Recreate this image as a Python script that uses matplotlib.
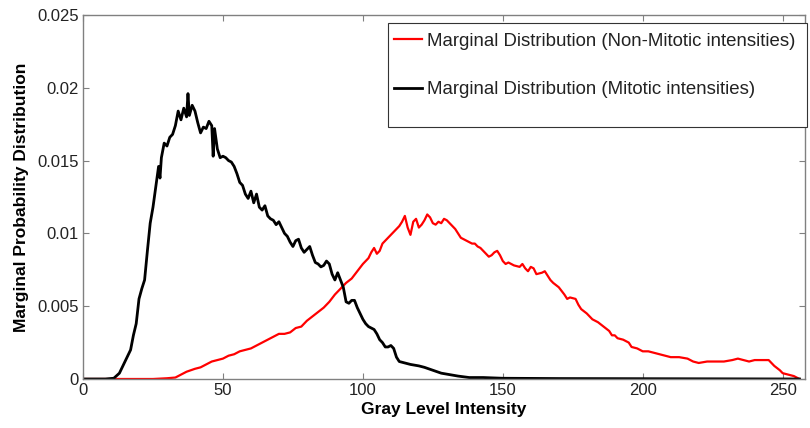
import matplotlib
matplotlib.use('Agg')
import matplotlib.pyplot as plt
from matplotlib.patches import Rectangle
from matplotlib.ticker import FuncFormatter

plt.rcParams['font.family'] = ['Liberation Sans', 'DejaVu Sans']

# gray level / probability pairs
mitotic_x = [0, 8, 11, 13, 15, 17, 18, 19, 20, 21, 22, 23, 24, 25, 26, 27, 27.5, 28, 29, 30,
             31, 32, 33, 34, 35, 36, 37, 37.5, 38, 39, 40, 41, 42, 43, 44, 45, 46, 46.5, 47, 48,
             49, 50, 51, 52, 53, 54, 55, 56, 57, 58, 59, 60, 61, 62, 63, 64, 65, 66, 67, 68,
             69, 70, 71, 72, 73, 74, 75, 76, 77, 78, 79, 80, 81, 82, 83, 84, 85, 86, 87, 88,
             89, 90, 91, 92, 93, 94, 95, 96, 97, 98, 99, 100, 101, 102, 103, 104, 105, 106, 107, 108,
             109, 110, 111, 112, 113, 115, 117, 120, 122, 125, 128, 131, 134, 138, 143, 150, 170, 200, 230, 256]
mitotic_y = [0, 0, 0.00005, 0.0004, 0.0012, 0.002, 0.003, 0.0038, 0.0055, 0.0062, 0.0068, 0.0088,
             0.0107, 0.0118, 0.0132, 0.0146, 0.0138, 0.0152, 0.0162, 0.0160,
             0.0166, 0.0168, 0.0174, 0.0184, 0.0178, 0.0186, 0.0180, 0.0196, 0.0181, 0.0188,
             0.0184, 0.0176, 0.0169, 0.0173, 0.0172, 0.0177, 0.0174, 0.0153, 0.0172, 0.0158,
             0.0152, 0.0153, 0.0152, 0.0150, 0.0149, 0.0146, 0.0141, 0.0135, 0.0133, 0.0127,
             0.0124, 0.0129, 0.0121, 0.0127, 0.0118, 0.0116, 0.0119, 0.0112, 0.0110, 0.0109,
             0.0106, 0.0108, 0.0104, 0.0100, 0.0098, 0.0094, 0.0091, 0.0095, 0.0096, 0.0090,
             0.0087, 0.0089, 0.0091, 0.0085, 0.0080, 0.0079, 0.0077, 0.0078, 0.0081, 0.0079,
             0.0072, 0.0068, 0.0073, 0.0068, 0.0063, 0.0053, 0.0052, 0.0054, 0.0054, 0.0049,
             0.0045, 0.0041, 0.0038, 0.0036, 0.0035, 0.0034, 0.0031, 0.0027, 0.0025, 0.0022,
             0.0022, 0.0023, 0.0021, 0.0015, 0.0012, 0.0011, 0.0010, 0.0009, 0.0008, 0.0006,
             0.0004, 0.0003, 0.0002, 0.0001, 0.0001, 0.00005, 0.00003, 0.00002, 0.00001, 0]

nonmitotic_x = [0, 13, 25, 30, 33, 35, 37, 40, 42, 44, 46, 48, 50, 52, 54, 56, 58, 60, 62, 64,
                66, 68, 70, 72, 74, 76, 78, 80, 82, 84, 86, 88, 90, 92, 94, 96, 98, 100, 102, 103,
                104, 105, 106, 107, 108, 110, 112, 113, 114, 115, 116, 117, 118, 119, 120, 121, 122, 123, 124, 125,
                126, 127, 128, 129, 130, 131, 132, 133, 134, 135, 136, 137, 138, 139, 140, 141, 142, 143, 144, 145,
                146, 147, 148, 149, 150, 151, 152, 154, 156, 157, 158, 159, 160, 161, 162, 164, 165, 167, 168, 170,
                172, 173, 174, 176, 177, 178, 180, 182, 184, 186, 188, 189, 190, 191, 193, 195, 196, 198, 200, 202,
                204, 206, 208, 210, 213, 216, 218, 220, 223, 226, 229, 232, 234, 236, 238, 240, 243, 245, 247, 249,
                250, 252, 254, 255, 256]
nonmitotic_y = [0, 0, 0, 0.00005, 0.0001, 0.0003, 0.0005, 0.0007, 0.0008, 0.0010, 0.0012, 0.0013,
                0.0014, 0.0016, 0.0017, 0.0019, 0.0020, 0.0021, 0.0023, 0.0025,
                0.0027, 0.0029, 0.0031, 0.0031, 0.0032, 0.0035, 0.0036, 0.0040, 0.0043, 0.0046,
                0.0049, 0.0053, 0.0058, 0.0062, 0.0066, 0.0069, 0.0074, 0.0079, 0.0083, 0.0087,
                0.0090, 0.0086, 0.0088, 0.0093, 0.0095, 0.0099, 0.0103, 0.0105, 0.0108, 0.0112,
                0.0104, 0.0099, 0.0108, 0.0110, 0.0104, 0.0106, 0.0109, 0.0113, 0.0111, 0.0107,
                0.0106, 0.0108, 0.0107, 0.0110, 0.0109, 0.0107, 0.0105, 0.0103, 0.0100, 0.0097,
                0.0096, 0.0095, 0.0094, 0.0093, 0.0093, 0.0091, 0.0090, 0.0088, 0.0086, 0.0084,
                0.0085, 0.0087, 0.0088, 0.0085, 0.0081, 0.0079, 0.0080, 0.0078, 0.0077, 0.0079,
                0.0076, 0.0074, 0.0077, 0.0076, 0.0072, 0.0073, 0.0074, 0.0068, 0.0066, 0.0063,
                0.0058, 0.0055, 0.0056, 0.0055, 0.0051, 0.0048, 0.0045, 0.0041, 0.0039, 0.0036,
                0.0033, 0.0030, 0.0030, 0.0028, 0.0027, 0.0025, 0.0022, 0.0021, 0.0019, 0.0019,
                0.0018, 0.0017, 0.0016, 0.0015, 0.0015, 0.0014, 0.0012, 0.0011, 0.0012, 0.0012,
                0.0012, 0.0013, 0.0014, 0.0013, 0.0012, 0.0013, 0.0013, 0.0013, 0.0009, 0.0006,
                0.0004, 0.0003, 0.0002, 0.0001, 0]

x_ticks = [0, 50, 100, 150, 200, 250]
y_ticks = [0, 0.005, 0.01, 0.015, 0.02, 0.025]

fig = plt.figure(figsize=(8.1, 4.28), dpi=100)
ax = fig.add_axes([0.1025, 0.1145, 0.8914, 0.8505])

ax.plot(nonmitotic_x, nonmitotic_y, color='red', lw=1.6,
        label='Marginal Distribution (Non-Mitotic intensities)')
ax.plot(mitotic_x, mitotic_y, color='black', lw=2.0,
        label='Marginal Distribution (Mitotic intensities)')

ax.set_xlim(0, 258)
ax.set_ylim(0, 0.025)
ax.set_xticks(x_ticks)
ax.set_yticks(y_ticks)
ax.yaxis.set_major_formatter(FuncFormatter(lambda v, p: '%g' % v))
ax.tick_params(direction='in', top=True, right=True, length=4, width=0.8,
               color='#808080', labelsize=12, labelcolor='#222222', pad=3)
for s in ax.spines.values():
    s.set_color('#808080')
    s.set_linewidth(1.0)

ax.set_xlabel('Gray Level Intensity', fontsize=12.5, fontweight='bold', labelpad=3)
ax.set_ylabel('Marginal Probability Distribution', fontsize=12.5, fontweight='bold', labelpad=6)

# MATLAB style legend box, taller than its two entries
box = Rectangle((0.4224, 0.692), 0.5806, 0.286, transform=ax.transAxes,
                facecolor='white', edgecolor='#333333', lw=0.8, clip_on=False, zorder=5)
ax.add_patch(box)
leg = ax.legend(loc='upper left', bbox_to_anchor=(0.4224, 0.967), fontsize=13.4,
                labelspacing=1.7, borderpad=0.3, handlelength=1.55, handletextpad=0.25,
                frameon=False, borderaxespad=0)
leg.set_zorder(6)
for t in leg.get_texts():
    t.set_color('#222222')

plt.savefig('out.png', dpi=100)
plt.close()
